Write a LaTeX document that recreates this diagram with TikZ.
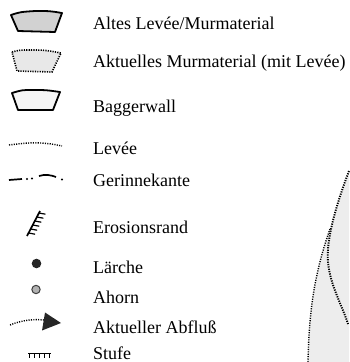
\documentclass[tikz,border=0pt]{standalone}
\usepackage{fontspec}
\setmainfont{Liberation Serif}
\usetikzlibrary{calc}
\begin{document}
\begin{tikzpicture}[x=1pt,y=-1pt,
  lbl/.style={anchor=base west,inner sep=0pt,font=\fontsize{18}{20}\selectfont},
  thickb/.style={line width=1.8pt,line join=round},
  dotb/.style={line width=1.6pt,dash pattern=on 1.2pt off 1.2pt},
  fdot/.style={line width=1.4pt,dash pattern=on 1.1pt off 1.3pt}]
\useasboundingbox (0,0) rectangle (349,362);
% right-side region
\fill[gray!14] (308,362) .. controls (309,320) and (312,280) .. (330,229)
  .. controls (336,210) and (343,190) .. (349,171) -- (349,362) -- cycle;
\draw[fdot] (308,362) .. controls (309,320) and (312,280) .. (330,229);
\draw[dotb,line width=1.9pt] (349,171) .. controls (336,205) and (326,240) .. (328,262)
  .. controls (330,285) and (342,305) .. (348,324);
% symbols
\draw[thickb,fill=gray!35] (11,15) .. controls (20,12) .. (35,11) .. controls (50,11) .. (62,13) -- (55,32) -- (18,31) -- cycle;
\draw[dotb,fill=gray!18] (12,52) .. controls (20,50) .. (27,50) .. controls (45,50) .. (61,53) -- (52,72) -- (17,71) -- cycle;
\draw[thickb,fill=gray!8] (12,93) .. controls (22,90) .. (32,90) .. controls (46,90) .. (60,92) -- (53,110) -- (18,110) -- cycle;
\draw[fdot] (9,145) .. controls (25,143) and (40,141) .. (62,146);
\draw[line width=1.7pt] (9,180) -- (22,179);
\fill (27,179) circle (1.2) (32,178.5) circle (1.2) (62,179.5) circle (1.2);
\draw[line width=1.7pt] (39,176) .. controls (45,174) and (51,175) .. (56,177);
% Erosionsrand
\draw[line width=1.7pt] (27,236) -- (40,211);
\foreach \t in {0.12,0.28,0.44,0.6,0.76,0.92}
  \draw[line width=1.2pt] ($(27,236)!\t!(40,211)$) -- ++(6.5,1.2);
% dots
\fill[black!85] (36.5,263.5) circle (4.8);
\draw[fill=gray!60,draw=black!75,line width=1pt] (36,289.5) circle (4.2);
% Abfluss
\draw[fdot] (10,325) .. controls (22,320) and (34,319) .. (44,320);
\fill[black!85] (45,312.5) -- (61,323) -- (42,330.5) -- cycle;
% Stufe
\draw[line width=1.2pt] (28,353.3) -- (51,353.3);
\foreach \x in {29.5,34.3,39.3,44.3,49.3}
  \draw[line width=1.1pt] (\x,353.3) -- (\x,357.5);
% labels
\node[lbl] (t1) at (93,29) {Altes Levée/Murmaterial};
\node[lbl] (t2) at (93,67) {Aktuelles Murmaterial (mit Levée)};
\node[lbl] (t3) at (93,112) {Baggerwall};
\node[lbl] (t4) at (93,154) {Levée};
\node[lbl] (t5) at (93,186) {Gerinnekante};
\node[lbl] (t6) at (93,233) {Erosionsrand};
\node[lbl] (t7) at (93,273) {Lärche};
\node[lbl] (t8) at (93,303) {Ahorn};
\node[lbl] (t9) at (93,333) {Aktueller Abfluß};
\node[lbl] (t10) at (93,359) {Stufe};
\end{tikzpicture}
\end{document}
